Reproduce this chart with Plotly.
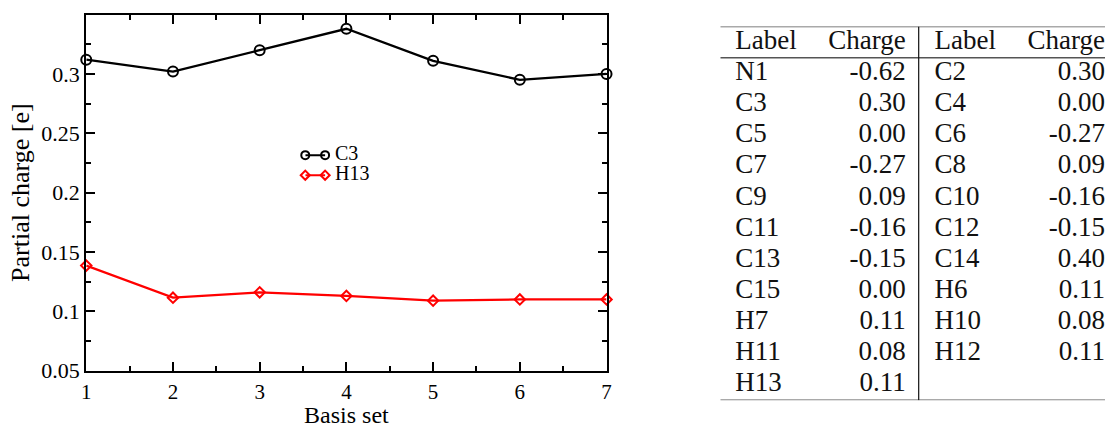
import plotly.graph_objects as go

# ---------------- data ----------------
BASIS_SETS = [1, 2, 3, 4, 5, 6, 7]
C3_CHARGE = [0.312, 0.302, 0.320, 0.338, 0.311, 0.295, 0.300]
H13_CHARGE = [0.1385, 0.1115, 0.116, 0.113, 0.109, 0.110, 0.110]
SERIES_NAMES = ["C3", "H13"]

X_TICKS = [1, 2, 3, 4, 5, 6, 7]
Y_TICKS = [0.05, 0.1, 0.15, 0.2, 0.25, 0.3]

TABLE_HEADER = ["Label", "Charge", "Label", "Charge"]
LABELS_LEFT = ["N1", "C3", "C5", "C7", "C9", "C11", "C13", "C15", "H7", "H11", "H13"]
CHARGES_LEFT = [-0.62, 0.30, 0.00, -0.27, 0.09, -0.16, -0.15, 0.00, 0.11, 0.08, 0.11]
LABELS_RIGHT = ["C2", "C4", "C6", "C8", "C10", "C12", "C14", "H6", "H10", "H12"]
CHARGES_RIGHT = [0.30, 0.00, -0.27, 0.09, -0.16, -0.15, 0.40, 0.11, 0.08, 0.11]

# ---------------- styles / layout ----------------
W, H = 1110, 428
FONT = "Liberation Serif"
COLORS = ["#000000", "#ff0000"]
SYMBOLS = ["circle-open", "diamond-open"]
MSIZE = [10, 8]
LEG_MSIZE = [8, 7]


def px_x(a, b):
    return [a / W, b / W]


def px_y(top, bottom):
    return [(H - bottom) / H, (H - top) / H]


fig = go.Figure()

# main chart
for name, vals, col, sym, ms in zip(SERIES_NAMES, [C3_CHARGE, H13_CHARGE], COLORS, SYMBOLS, MSIZE):
    fig.add_trace(go.Scatter(
        x=BASIS_SETS, y=vals, name=name, mode="lines+markers",
        line=dict(color=col, width=2.3),
        marker=dict(symbol=sym, size=ms, color=col, line=dict(color=col, width=2)),
        showlegend=False, xaxis="x", yaxis="y", cliponaxis=False,
    ))

# custom legend (marker-line-marker sample) on a hidden axis (1 unit = 20 px)
for i, (name, col, sym, ms) in enumerate(zip(SERIES_NAMES, COLORS, SYMBOLS, LEG_MSIZE)):
    fig.add_trace(go.Scatter(
        x=[0, 1], y=[-i, -i], mode="lines+markers",
        line=dict(color=col, width=2),
        marker=dict(symbol=sym, size=ms, color=col, line=dict(color=col, width=2)),
        showlegend=False, xaxis="x3", yaxis="y3", cliponaxis=False, hoverinfo="skip",
    ))
fig.add_trace(go.Scatter(
    x=[1.5] * len(SERIES_NAMES), y=[-i for i in range(len(SERIES_NAMES))],
    mode="text", text=SERIES_NAMES, textposition="middle right",
    textfont=dict(family=FONT, size=20, color="#000"),
    showlegend=False, xaxis="x3", yaxis="y3", cliponaxis=False, hoverinfo="skip",
))

# table as text on hidden axes (x in px offset from table origin, y = row index)
COL_LEFT1, COL_RIGHT1, COL_LEFT2, COL_RIGHT2 = 37, 209, 238, 410
n_left = len(LABELS_LEFT)
rows_left = list(range(1, n_left + 1))
rows_right = list(range(1, len(LABELS_RIGHT) + 1))
tfont = dict(family=FONT, size=27, color="#111")


def fmt(v):
    return f"{v:.2f}"


def text_trace(xs, ys, texts, pos):
    return go.Scatter(x=xs, y=ys, mode="text", text=texts, textposition=pos,
                      textfont=tfont, showlegend=False, xaxis="x2", yaxis="y2",
                      cliponaxis=False, hoverinfo="skip")


# header
fig.add_trace(text_trace([COL_LEFT1, COL_LEFT2], [0, 0], [TABLE_HEADER[0], TABLE_HEADER[2]], "middle right"))
fig.add_trace(text_trace([COL_RIGHT1, COL_RIGHT2], [0, 0], [TABLE_HEADER[1], TABLE_HEADER[3]], "middle left"))
# body
fig.add_trace(text_trace([COL_LEFT1] * n_left, rows_left, LABELS_LEFT, "middle right"))
fig.add_trace(text_trace([COL_RIGHT1] * n_left, rows_left, [fmt(v) for v in CHARGES_LEFT], "middle left"))
fig.add_trace(text_trace([COL_LEFT2] * len(LABELS_RIGHT), rows_right, LABELS_RIGHT, "middle right"))
fig.add_trace(text_trace([COL_RIGHT2] * len(LABELS_RIGHT), rows_right, [fmt(v) for v in CHARGES_RIGHT], "middle left"))

rule = dict(color="#555", width=1.3)
shapes = []
for yy in [-0.5, 0.5, n_left + 0.5]:
    shapes.append(dict(type="line", xref="x2", yref="y2", x0=22, x1=410, y0=yy, y1=yy, line=rule))
shapes.append(dict(type="line", xref="x2", yref="y2", x0=222, x1=222, y0=-0.5, y1=n_left + 0.5,
                   line=dict(color="#111", width=1.2)))

axis_common = dict(
    showgrid=False, zeroline=False, showline=True, linecolor="#000", linewidth=2,
    mirror="allticks", ticks="inside", ticklen=9, tickwidth=1.5, tickcolor="#000",
)

fig.update_layout(
    width=W, height=H, margin=dict(l=0, r=0, t=0, b=0),
    paper_bgcolor="white", plot_bgcolor="white",
    font=dict(family=FONT, color="#000"),
    showlegend=False,
    xaxis=dict(domain=px_x(82, 607), range=[1, 7], tickmode="array", tickvals=X_TICKS,
               tickfont=dict(family=FONT, size=21, color="#000"),
               minor=dict(dtick=0.5, tick0=1, ticks="inside", ticklen=5, tickwidth=1.5,
                          tickcolor="#000", showgrid=False),
               title=dict(text="Basis set", font=dict(family=FONT, size=24, color="#000"), standoff=5),
               ticklabelstandoff=1,
               anchor="y", **axis_common),
    yaxis=dict(domain=px_y(15, 382.3), range=[0.05, 0.35], tickmode="array", tickvals=Y_TICKS,
               tickfont=dict(family=FONT, size=22, color="#000"),
               minor=dict(dtick=0.025, tick0=0.05, ticks="inside", ticklen=5, tickwidth=1.5,
                          tickcolor="#000", showgrid=False),
               title=dict(text="Partial charge [e]", font=dict(family=FONT, size=26, color="#000"),
                          standoff=4),
               anchor="x", **axis_common),
    xaxis2=dict(domain=px_x(700, 1110), range=[0, 410], visible=False, anchor="y2"),
    yaxis2=dict(domain=px_y(27.45, 412.75), range=[n_left + 0.5, -0.5], visible=False, anchor="x2"),
    xaxis3=dict(domain=px_x(303, 403), range=[0, 5], visible=False, anchor="y3"),
    yaxis3=dict(domain=px_y(149.65, 191.05), range=[-1.5, 0.5], visible=False, anchor="x3"),
    shapes=shapes,
)

fig.write_html("out.html")
